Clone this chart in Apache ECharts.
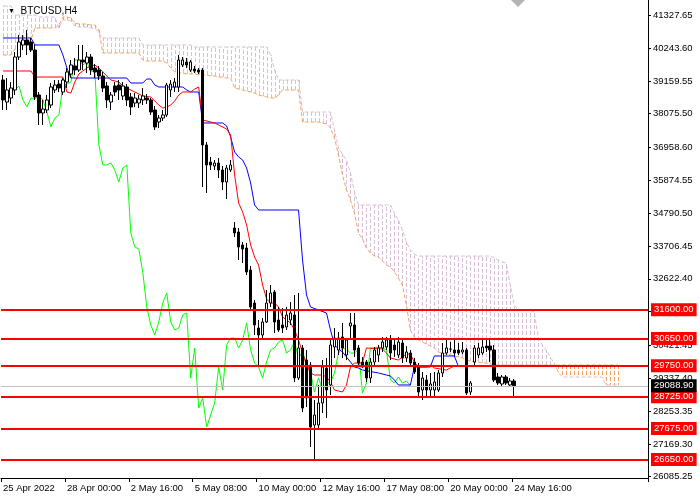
<!DOCTYPE html>
<html><head><meta charset="utf-8">
<script src="https://cdn.jsdelivr.net/npm/echarts@6/dist/echarts.min.js"></script>
<style>html,body{margin:0;padding:0;background:#fff}#c{width:700px;height:500px}</style>
</head><body><div id="c"></div>
<script>
// ---- time axis labels (bar index -> label) ----
const labelIdx  = [0,16,32,48,64,80,96,112,128];
const labelText = ['25 Apr 2022','28 Apr 00:00','2 May 16:00','5 May 08:00','10 May 00:00','12 May 16:00','17 May 08:00','20 May 00:00','24 May 16:00'];
const slotCount = 162;

// ---- price axis tick labels ----
const yTicks = [41327.65,40243.60,39159.55,38075.50,36958.60,35874.55,34790.50,33706.45,32622.40,31538.35,30421.45,29337.40,28253.35,27169.30,26085.25];

// ---- horizontal levels ----
const levels = [31600,30650,29750,28725,27675,26650];
const lastPrice = 29088.90;

// ---- candles (H4 bars) ----
const open = [39190,38463,38596,38860,39950,40347,40512,40446,40181,38695,
38100,38199,38364,38860,39058,38794,39124,39388,39653,39521,
39851,39752,39950,39587,39521,39322,38992,38463,38992,39025,
38662,38959,38629,38430,38430,38530,38596,38530,38199,37803,
37935,38034,38860,38959,38959,39686,39785,39521,39554,39521,
39521,37043,36481,36349,36448,36217,35821,36217,34301,34169,
33740,33641,32914,31823,30998,30766,31196,31823,32187,31262,
31097,31031,31262,31427,29346,30337,29940,29775,27792,27792,
28520,29676,29115,30370,30271,30700,30106,31064,31097,30337,
29874,29874,29346,29874,30106,30337,30370,30601,30436,30106,
30502,30007,30172,29874,29709,28949,29280,28949,28949,28949,
29511,30172,30304,30271,30271,30205,30271,28883,29874,30106,
30172,30403,30403,30271,29379,29148,29379,29115,29247];
const close = [38530,38860,38926,39950,40446,40512,40347,40181,38629,38100,
38232,38530,38959,39025,38926,39190,39455,39686,39521,39851,
39785,39950,39521,39455,39322,38926,38530,38695,38794,38860,
38992,38530,38298,38596,38563,38662,38530,38133,37638,37935,
38034,39025,39058,39124,39851,39851,39686,39785,39488,39455,
37043,36382,36382,36448,36217,35821,36283,36382,34136,33674,
33608,32848,31691,31097,30766,31196,31823,32154,31196,30931,
30998,31427,31493,29346,30337,28355,28685,27726,28123,28520,
29709,28949,30436,30667,30667,30337,30601,31163,30271,29841,
29709,29346,29874,30271,30337,30535,30601,30172,30271,30535,
30007,30205,29841,29544,28883,29346,28949,29148,29214,29511,
30172,30337,30300,30172,30172,30271,28850,29181,30337,30337,
30370,30337,30271,29280,29181,29379,29181,29247,29088.9];
const low = [38199,38199,38397,38695,39851,40181,40016,40115,38530,37704,
37704,38100,38265,38761,38794,38695,38926,39256,39355,39455,
39521,39421,39355,39256,39190,38794,38265,38199,38662,38530,
38530,38331,38034,38298,38265,38364,38397,38034,37538,37605,
37836,37968,38629,38794,38794,39620,39587,39455,39421,39388,
35656,35457,36217,36217,35953,35557,35259,36151,34004,33244,
33145,32749,31592,30766,29709,30601,31163,31691,30832,30865,
30832,30931,31097,29214,29280,28222,28388,27066,26637,27628,
28189,28024,28784,30007,30106,30007,29940,30601,30040,29709,
29676,29214,29181,29775,29874,30205,30271,29940,30040,30007,
29841,29874,29742,29478,28718,28619,28685,28751,28751,28883,
29379,30106,30205,30073,30106,30139,28784,28784,29775,30007,
30106,30205,29874,29214,29115,29082,29115,29049,28685];
const high = [39355,39256,39124,40115,40677,40677,40842,40578,40347,38794,
38530,38695,39091,39190,39190,39256,39587,39851,39917,40347,
40347,40115,40049,39719,39653,39455,39124,38794,39124,39190,
39124,39058,38761,38761,38695,38926,38728,38596,38331,38034,
38199,39091,39190,39256,40016,39950,39917,39851,39653,39587,
39587,37142,36647,36547,36614,36349,36382,36547,34499,34301,
33839,33806,33046,31922,31262,31328,32253,32418,32253,31691,
31658,31691,31856,32088,32154,30436,30271,29874,28619,29115,
29940,30007,30601,30998,30865,31163,30667,31493,31493,30436,
30040,29940,30007,30370,30436,30700,30700,30766,30667,30700,
30601,30403,30271,30007,29841,29544,29445,29511,29544,29610,
30502,30601,30535,30634,30502,30535,30337,29247,30436,30502,
30601,30601,30601,30436,29511,29445,29445,29346,29313];

// ---- Ichimoku: Tenkan-sen (red) vertices [bar, price] ----
const tenkan = [[0,39488],[7,39488],[8,39289],[15,39289],[16,38794],[17,38761],[18,39124],[19,39388],[20,39488],[21,39587],[22,39653],[23,39686],[24,39587],[25,39455],[26,39322],[27,39190],[29,39124],[30,38992],[33,38794],[35,38662],[37,38629],[38,38497],[39,38364],[40,38265],[41,38298],[42,38364],[43,38497],[44,38695],[45,38794],[47,38794],[48,38893],[49,38959],[50,37869],[53,37770],[54,37704],[56,37571],[57,37374],[58,36052],[59,35127],[60,34830],[61,34400],[62,33740],[63,33342],[64,33079],[65,32418],[66,31956],[67,31823],[68,31823],[69,31691],[70,31361],[71,31262],[72,31163],[73,30931],[74,30601],[75,30172],[76,29775],[77,29511],[78,29445],[80,29445],[81,29379],[82,29214],[83,28949],[85,28883],[86,29115],[87,29709],[88,29841],[90,29841],[91,30337],[95,30304],[96,30172],[97,30007],[99,29940],[100,30040],[101,30139],[102,30139],[103,29874],[104,29709],[106,29709],[107,29775],[108,29676],[111,29610],[112,29676],[113,29742],[128,29742]];

// ---- Kijun-sen (blue) vertices [bar, price] ----
const kijun = [[0,40578],[7,40578],[8,40347],[14,40347],[15,40016],[16,39587],[17,39256],[31,39256],[32,39091],[35,39091],[36,39223],[37,39223],[38,39025],[39,38959],[45,38959],[46,38860],[47,38794],[49,38794],[50,37770],[55,37770],[56,37671],[57,37307],[58,36812],[59,36647],[60,36547],[61,36283],[62,35788],[63,35061],[64,34896],[74,34896],[75,33244],[76,32088],[77,31691],[79,31592],[81,31493],[82,30931],[83,30436],[84,30304],[85,30205],[86,30040],[87,29874],[88,29709],[89,29676],[90,29610],[94,29511],[96,29445],[97,29412],[98,29280],[99,29115],[102,29115],[103,29709],[107,29709],[108,30073],[113,30073],[114,29742],[128,29742]];

// ---- Chikou span (green), plotted from bar 0 ----
const chikou = [38530,38695,38794,38860,38992,38530,38298,38596,38563,38662,
38530,38133,37638,37935,38034,39025,39058,39124,39851,39851,
39686,39785,39488,39455,37043,36382,36382,36448,36217,35821,
36283,36382,34136,33674,33608,32848,31691,31097,30766,31196,
31823,32154,31196,30931,30998,31427,31493,29346,30337,28355,
28685,27726,28123,28520,29709,28949,30436,30667,30667,30337,
30601,31163,30271,29841,29709,29346,29874,30271,30337,30535,
30601,30172,30271,30535,30007,30205,29841,29544,28883,29346,
28949,29148,29214,29511,30172,30337,30300,30172,30172,30271,
28850,29181,30337,30337,30370,30337,30271,29280,29181,29379,
29181,29247,29088.9];

// ---- Senkou span A (sandybrown) and B (thistle), bars 0..154 ----
const spanA = [40016,40016,40016,40214,40247,40347,40413,40512,40908,40908,
40908,40908,40908,40908,41007,41271,41271,41238,41073,41040,
41040,41040,41007,41007,40842,40083,40083,40083,40083,40083,
40083,40083,40083,40083,40083,39851,39818,39818,39818,39818,
39818,39752,39587,39455,39421,39421,39388,39388,39388,39355,
39355,39355,39322,39322,39289,39289,39256,39256,38926,38893,
38860,38827,38794,38761,38695,38662,38629,38596,38596,38695,
38860,38860,38860,38860,38860,37803,37803,37803,37803,37803,
37770,37737,37605,37274,36713,36052,35557,35226,34796,34136,
33938,33641,33474,33375,33342,33211,33079,33013,32848,32649,
32418,31757,30931,30700,30601,30535,30469,30403,30337,30205,
30172,30139,30106,30073,30040,30007,29940,29907,29874,29874,
29841,29841,29808,29775,29775,29775,29775,29775,29775,29775,
29775,29775,29775,29775,29775,29775,29775,29775,29775,29775,
29775,29775,29775,29775,29775,29775,29775,29775,29775,29775,
29775,29775,29775,29775,29775];
const spanB = [41635,41635,41635,41337,41337,41337,41337,41337,41337,41271,
41271,41271,41271,41271,40908,41172,41172,41139,40974,40941,
40941,40941,40908,40908,40743,40578,40578,40578,40578,40578,
40578,40578,40578,40578,40578,40347,40347,40347,40347,40347,
40347,40347,40347,40347,40347,40347,40347,40347,40281,40281,
40281,40281,40281,40281,40281,40281,40281,40281,40281,40281,
40281,40281,40281,40281,40281,40281,40281,40016,39521,39190,
39190,39190,39190,39190,39190,38133,38133,38133,38133,38133,
38133,38133,38133,37538,36944,36746,36547,36118,35490,35061,
35061,35061,35061,35061,35061,35061,35061,35061,34796,34565,
34235,33839,33574,33442,33375,33375,33375,33375,33375,33375,
33375,33375,33375,33375,33375,33375,33375,33375,33375,33375,
33375,33375,33375,33310,33244,33178,33145,32418,31757,31592,
31592,31592,31592,31526,30700,30436,30271,30040,29841,29544,
29379,29379,29379,29379,29379,29379,29379,29379,29379,29379,
29379,29115,29115,29115,29115];

// ---------------------------------------------------------------
const FONT = 'Liberation Sans, Arial, sans-serif';
const categories = Array.from({length: slotCount}, (_, i) => {
  const k = labelIdx.indexOf(i); return k >= 0 ? labelText[k] : '';
});
const showIdx = (i) => labelIdx.indexOf(i) >= 0;
const candleData = open.map((o, i) => [o, close[i], low[i], high[i]]);
const cloudData = spanA.map((a, i) => [i, a, spanB[i]]);

const markData = levels.map(v => ({
  yAxis: v,
  lineStyle: {color: '#FF0000', width: 2, type: 'solid'},
  label: {formatter: v.toFixed(2), backgroundColor: '#FF0000', color: '#FFFFFF'}
}));
markData.push({
  yAxis: lastPrice,
  lineStyle: {color: '#C0C0C0', width: 1, type: 'solid'},
  label: {formatter: lastPrice.toFixed(2), backgroundColor: '#000000', color: '#FFFFFF'}
});

const chart = echarts.init(document.getElementById('c'), null, {renderer: 'canvas'});
chart.setOption({
  animation: false,
  backgroundColor: '#FFFFFF',
  title: {
    text: '{t|▼}  BTCUSD,H4', left: 3, top: 1,
    textStyle: {fontSize: 10, fontWeight: 'normal', color: '#000', fontFamily: FONT,
      rich: {t: {fontSize: 7, color: '#000', fontFamily: FONT}}}
  },
  grid: {left: 0, right: 52, top: 0, bottom: 22, containLabel: false},
  xAxis: {
    type: 'category', data: categories, boundaryGap: true,
    axisLine: {show: true, lineStyle: {color: '#000', width: 1}},
    axisTick: {show: true, interval: (i) => showIdx(i), length: 4, lineStyle: {color: '#000'}},
    axisLabel: {interval: (i) => showIdx(i), align: 'left', color: '#000', fontSize: 9.5, margin: 5, fontFamily: FONT},
    splitLine: {show: false}
  },
  yAxis: {
    type: 'value', position: 'right', min: 26042.3, max: 41833, scale: true,
    axisLine: {show: true, lineStyle: {color: '#000', width: 1}},
    axisTick: {show: true, customValues: yTicks, length: 3, lineStyle: {color: '#000'}},
    axisLabel: {customValues: yTicks, formatter: (v) => v.toFixed(2), color: '#000', fontSize: 9.5, margin: 5, fontFamily: FONT},
    splitLine: {show: false}
  },
  series: [
    {
      name: 'cloud', type: 'custom', data: cloudData, clip: true, silent: true, z: 1,
      encode: {x: 0, y: [1, 2]},
      renderItem: (params, api) => {
        const i = api.value(0), a = api.value(1), b = api.value(2);
        const pa = api.coord([i, a]), pb = api.coord([i, b]);
        const x = Math.round(pa[0]) + 0.5;
        return {type: 'line', shape: {x1: x, y1: Math.round(pa[1]), x2: x, y2: Math.round(pb[1])},
          style: {stroke: a >= b ? '#F4A460' : '#D8BFD8', lineWidth: 1, lineDash: [4, 2]}};
      }
    },
    {name: 'Senkou A', type: 'line', data: spanA, symbol: 'none', silent: true, z: 2,
      lineStyle: {color: '#F4A460', width: 1, type: [4, 2]}},
    {name: 'Senkou B', type: 'line', data: spanB, symbol: 'none', silent: true, z: 2,
      lineStyle: {color: '#D8BFD8', width: 1, type: [4, 2]}},
    {name: 'Chikou', type: 'line', data: chikou, symbol: 'none', silent: true, z: 2,
      lineStyle: {color: '#00FF00', width: 1}},
    {name: 'Kijun', type: 'line', data: kijun, symbol: 'none', silent: true, z: 2,
      lineStyle: {color: '#0000FF', width: 1}},
    {name: 'Tenkan', type: 'line', data: tenkan, symbol: 'none', silent: true, z: 2,
      lineStyle: {color: '#FF0000', width: 1}},
    {
      name: 'BTCUSD', type: 'candlestick', data: candleData, barWidth: 3, z: 3, silent: true,
      itemStyle: {color: '#FFFFFF', color0: '#000000', borderColor: '#000000', borderColor0: '#000000', borderWidth: 1},
      markLine: {
        silent: true, symbol: ['none', 'none'], animation: false,
        label: {show: true, position: 'end', distance: 3, fontSize: 9.5, fontFamily: FONT, padding: [2, 3, 1, 3]},
        data: markData
      }
    }
  ],
  graphic: [{
    type: 'polygon', silent: true,
    shape: {points: [[511, 0], [525, 0], [518, 7]]},
    style: {fill: '#B4B4B4'}
  }]
});
</script>
</body></html>
